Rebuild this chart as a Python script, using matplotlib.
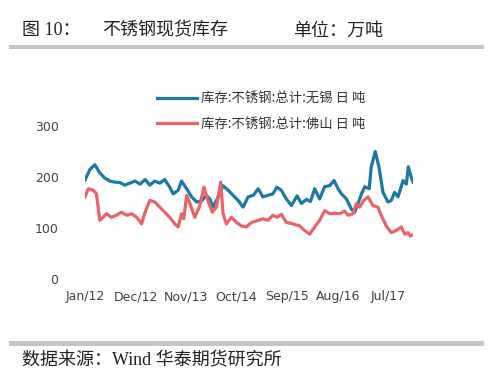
import matplotlib
matplotlib.use("Agg")
import matplotlib.pyplot as plt
from matplotlib.patches import Rectangle
import pandas as pd

# 库存:不锈钢:总计:无锡 (weekly)
wuxi_dates = ["2012-01-01", "2012-02-03", "2012-03-06", "2012-03-21", "2012-04-08", "2012-05-11",
              "2012-06-14", "2012-07-16", "2012-08-19", "2012-09-21", "2012-10-24", "2012-11-27",
              "2012-12-30", "2013-02-02", "2013-03-05", "2013-04-07", "2013-05-10", "2013-06-12",
              "2013-07-15", "2013-08-07", "2013-09-09", "2013-10-01", "2013-11-04", "2013-12-07",
              "2014-01-09", "2014-02-11", "2014-03-14", "2014-04-06", "2014-04-28", "2014-05-20",
              "2014-06-11", "2014-07-03", "2014-08-06", "2014-09-08", "2014-10-11", "2014-11-13",
              "2014-12-05", "2014-12-16", "2015-01-19", "2015-02-21", "2015-03-24", "2015-04-26",
              "2015-05-29", "2015-06-25", "2015-07-24", "2015-08-26", "2015-09-29", "2015-11-05",
              "2015-12-04", "2016-01-06", "2016-02-02", "2016-03-01", "2016-04-03", "2016-05-06",
              "2016-06-08", "2016-07-07", "2016-08-03", "2016-08-25", "2016-09-27", "2016-10-30",
              "2016-11-21", "2016-12-13", "2017-01-05", "2017-01-27", "2017-02-25", "2017-03-10",
              "2017-04-06", "2017-05-01", "2017-05-27", "2017-06-29", "2017-07-21", "2017-08-12",
              "2017-09-04", "2017-10-07", "2017-10-29", "2017-11-11", "2017-12-01", "2017-12-12"]
wuxi = [194, 215, 224, 217, 208, 198, 192, 190, 189, 184, 188, 192,
        186, 195, 184, 192, 188, 195, 180, 167, 174, 192, 177, 161,
        151, 153, 164, 157, 141, 154, 167, 183, 174, 164, 154, 141,
        154, 161, 164, 177, 161, 164, 167, 180, 174, 157, 144, 163,
        148, 156, 152, 177, 157, 181, 183, 193, 177, 167, 157, 137,
        131, 148, 167, 181, 177, 219, 250, 219, 170, 151, 154, 170,
        161, 193, 186, 220, 199, 190]

# 库存:不锈钢:总计:佛山
foshan_dates = ["2012-01-01", "2012-01-23", "2012-02-25", "2012-03-17", "2012-03-28", "2012-04-08",
                "2012-04-30", "2012-05-22", "2012-06-24", "2012-07-27", "2012-08-30", "2012-10-02",
                "2012-11-05", "2012-12-08", "2013-01-10", "2013-02-02", "2013-03-05", "2013-04-07",
                "2013-05-10", "2013-06-12", "2013-07-15", "2013-08-18", "2013-09-09", "2013-10-01",
                "2013-10-16", "2013-11-04", "2013-11-26", "2013-12-28", "2014-01-27", "2014-02-27",
                "2014-03-25", "2014-04-23", "2014-05-20", "2014-06-18", "2014-07-03", "2014-07-25",
                "2014-08-27", "2014-09-30", "2014-11-02", "2014-12-05", "2015-01-08", "2015-02-21",
                "2015-03-24", "2015-04-26", "2015-05-29", "2015-06-25", "2015-07-24", "2015-08-26",
                "2015-10-10", "2015-11-23", "2015-12-26", "2016-01-28", "2016-03-01", "2016-04-03",
                "2016-05-06", "2016-06-08", "2016-07-11", "2016-08-14", "2016-09-16", "2016-10-08",
                "2016-11-10", "2016-12-02", "2016-12-24", "2017-01-20", "2017-02-18", "2017-03-21",
                "2017-04-24", "2017-05-15", "2017-06-18", "2017-07-21", "2017-08-23", "2017-09-26",
                "2017-10-18", "2017-11-09", "2017-11-25", "2017-12-12"]
foshan = [161, 177, 174, 167, 141, 115, 121, 128, 121, 125, 131, 125,
          128, 121, 108, 131, 154, 151, 141, 131, 121, 108, 102, 128,
          118, 164, 148, 121, 141, 180, 154, 131, 141, 190, 128, 108,
          121, 111, 104, 102, 111, 115, 118, 115, 125, 121, 127, 111,
          108, 104, 95, 88, 102, 115, 134, 128, 129, 128, 133, 125,
          128, 148, 141, 154, 161, 144, 141, 125, 104, 91, 95, 102,
          88, 91, 84, 87]

tick_dates = ["2012-01-01", "2012-12-01", "2013-11-01", "2014-10-01", "2015-09-01", "2016-08-01", "2017-07-01"]
tick_labels = ["Jan/12", "Dec/12", "Nov/13", "Oct/14", "Sep/15", "Aug/16", "Jul/17"]
y_ticks = [0, 100, 200, 300]

W, H = 493, 378
fig = plt.figure(figsize=(W / 100, H / 100), dpi=100)
fig.patch.set_facecolor("white")

cjk = ["Noto Sans CJK SC", "DejaVu Sans"]
serif_cjk = ["Liberation Serif", "Noto Sans CJK SC"]

# header / footer
fig.text(22 / W, 1 - 31 / H, "图 10：", family=serif_cjk, fontsize=13, va="center", color="#222222")
fig.text(102 / W, 1 - 31 / H, "不锈钢现货库存", family=serif_cjk, fontsize=13, va="center", color="#222222")
fig.text(293 / W, 1 - 31 / H, "单位：万吨", family=serif_cjk, fontsize=13, va="center", color="#222222")
fig.add_artist(Rectangle((9 / W, 1 - 49 / H), 475 / W, 4.5 / H, transform=fig.transFigure,
                         color="#c4c4c4", lw=0))
fig.add_artist(Rectangle((9 / W, 1 - 346 / H), 475 / W, 5.5 / H, transform=fig.transFigure,
                         color="#c4c4c4", lw=0))
fig.text(22 / W, 1 - 361 / H, "数据来源：Wind 华泰期货研究所", family=serif_cjk, fontsize=13,
         va="center", color="#222222")

ax = fig.add_axes([85 / W, 1 - 279 / H, 328 / W, 153 / H])
x1 = pd.to_datetime(wuxi_dates)
x2 = pd.to_datetime(foshan_dates)
l1, = ax.plot(x1, wuxi, color="#1b7aa3", lw=2.3, solid_joinstyle="round")
l2, = ax.plot(x2, foshan, color="#e8646a", lw=2.3, solid_joinstyle="round")

ax.set_xlim(pd.Timestamp("2012-01-01"), pd.Timestamp("2017-12-12"))
ax.set_ylim(0, 300)
ax.set_yticks(y_ticks)
ax.set_xticks(pd.to_datetime(tick_dates))
ax.set_xticklabels(tick_labels)
for s in ax.spines.values():
    s.set_visible(False)
ax.tick_params(axis="both", length=0, labelsize=9, labelcolor="#404040")
ax.tick_params(axis="y", pad=19)
ax.tick_params(axis="x", pad=8)
for t in ax.get_xticklabels() + ax.get_yticklabels():
    t.set_family("DejaVu Sans")

fig.legend([l1, l2], ["库存:不锈钢:总计:无锡 日 吨", "库存:不锈钢:总计:佛山 日 吨"],
           loc="center left", bbox_to_anchor=(157 / W, 1 - 111.5 / H), frameon=False,
           prop={"family": cjk, "size": 9.6}, labelcolor="#333333",
           handlelength=3.0, handletextpad=0.3, labelspacing=0.85, borderpad=0, borderaxespad=0)

fig.savefig("out.png", dpi=100, facecolor="white")
